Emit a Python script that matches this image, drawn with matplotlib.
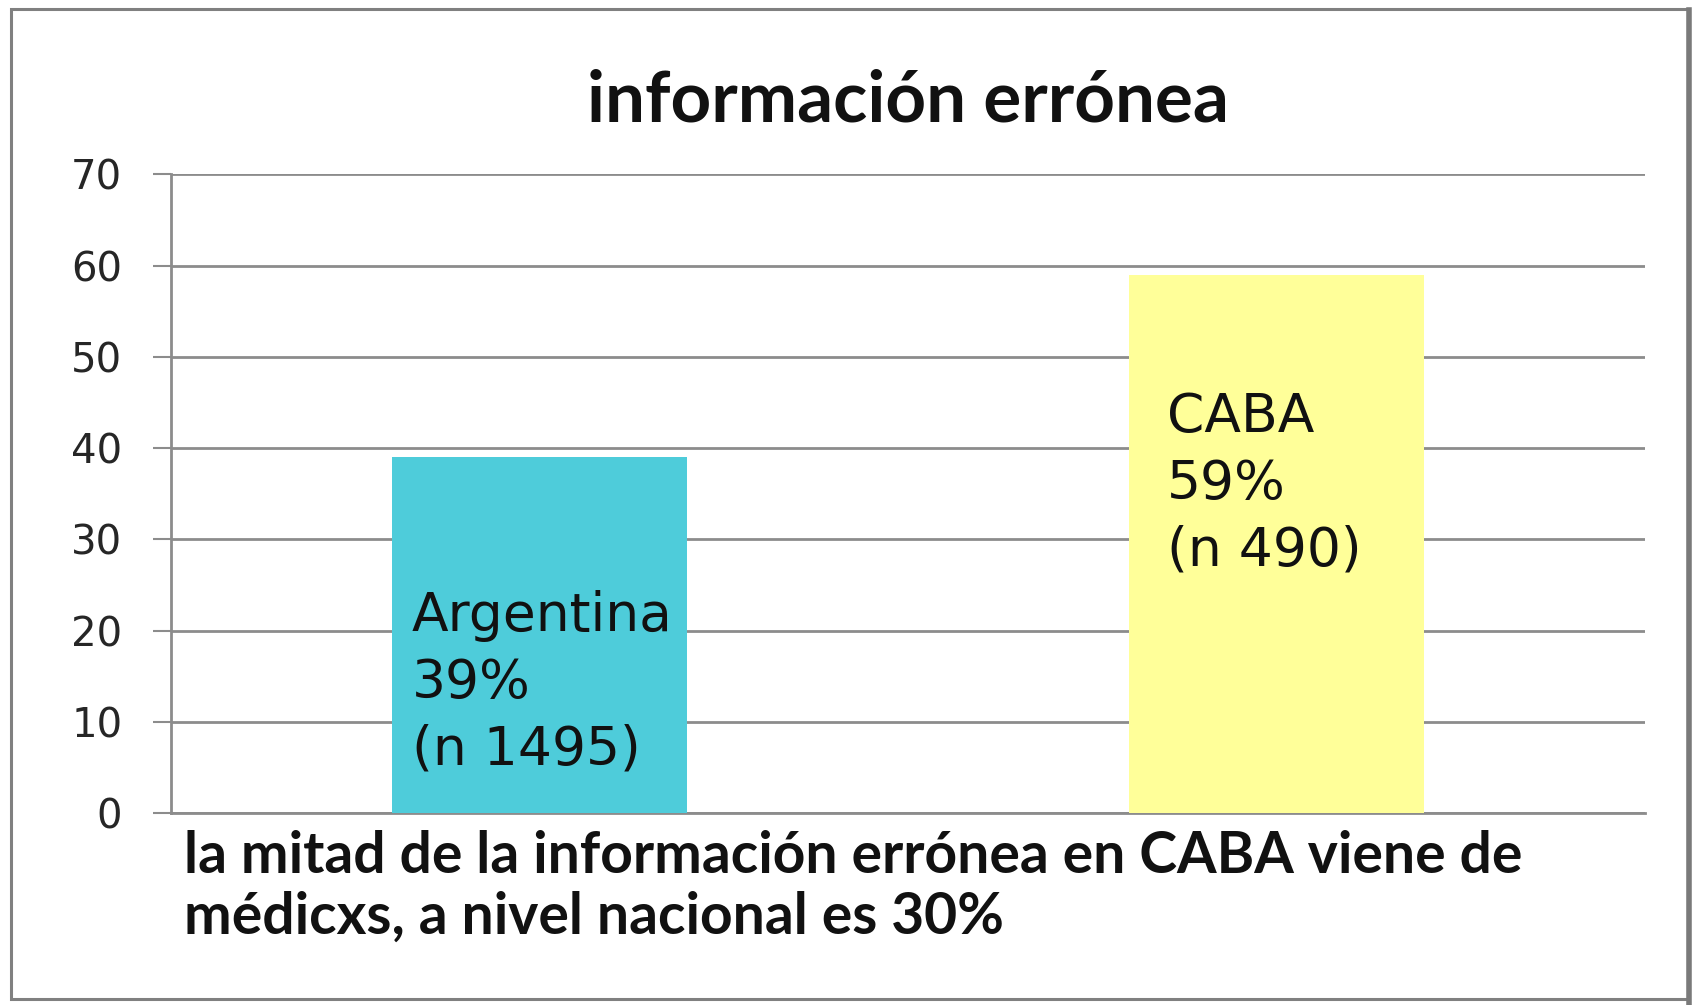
import matplotlib
matplotlib.use("Agg")
import matplotlib.pyplot as plt
from matplotlib.patches import Rectangle
from matplotlib.lines import Line2D

# ── Data ─────────────────────────────────────────────────────────────────────
categories = ["Argentina", "CABA"]
values = [39, 59]
sample_sizes = [1495, 490]
bar_colors = ["#4ECCDA", "#FFFF99"]
yticks = [0, 10, 20, 30, 40, 50, 60, 70]

title = "información errónea"
caption_lines = [
    "la mitad de la información errónea en CABA viene de",
    "médicxs, a nivel nacional es 30%",
]

# label placement inside bars (x offset from bar left, first baseline in data units)
label_dx = [0.027, 0.051]
label_y0 = [20.0, 41.8]
label_step = 7.35

# ── Figure ───────────────────────────────────────────────────────────────────
fig = plt.figure(figsize=(16.99, 10.05), dpi=100)
ax = fig.add_axes([0.1006, 0.191, 0.8676, 0.6354])

x = list(range(len(categories)))
width = 0.4
ax.bar(x, values, width=width, color=bar_colors, zorder=3)

ax.set_xlim(-0.5, 1.5)
ax.set_ylim(0, 70)
ax.set_yticks(yticks)
ax.set_xticks([])
ax.yaxis.grid(True, color="#8c8c8c", linewidth=2.0, zorder=0)
ax.set_axisbelow(True)
for side in ["top", "right"]:
    ax.spines[side].set_visible(False)
for side in ["left", "bottom"]:
    ax.spines[side].set_color("#8c8c8c")
    ax.spines[side].set_linewidth(2.0)
ax.tick_params(axis="y", length=13, width=1.5, color="#8c8c8c", pad=22,
               labelsize=29, labelcolor="#262626")
for lbl in ax.get_yticklabels():
    lbl.set_fontfamily("DejaVu Sans")

# labels inside the bars
for i, (cat, val, n) in enumerate(zip(categories, values, sample_sizes)):
    lines = [cat, f"{val}%", f"(n {n})"]
    for j, line in enumerate(lines):
        ax.text(x[i] - width / 2 + label_dx[i], label_y0[i] - j * label_step, line,
                fontsize=38.5, family="DejaVu Sans", color="#111111",
                ha="left", va="baseline", zorder=4)

# title and caption
fig.text(0.5344, 1 - 121 / 1005, title, ha="center", va="baseline",
         fontsize=51, family="Lato", fontweight="bold", color="#111111")
for k, line in enumerate(caption_lines):
    fig.text(184 / 1699, 1 - (873 + 61 * k) / 1005, line, ha="left", va="baseline",
             fontsize=41, family="Lato", fontweight="bold", color="#111111")

# outer frame
fig.patches.append(Rectangle((11 / 1699, 6 / 1005), 1677 / 1699, 990 / 1005,
                             transform=fig.transFigure, fill=False,
                             edgecolor="#808080", linewidth=2.2))
fig.lines.append(Line2D([1689 / 1699, 1689 / 1699], [0.0, 0.99],
                        transform=fig.transFigure, color="#7a7a7a", linewidth=4))

fig.savefig("out.png", dpi=100, facecolor="white")
